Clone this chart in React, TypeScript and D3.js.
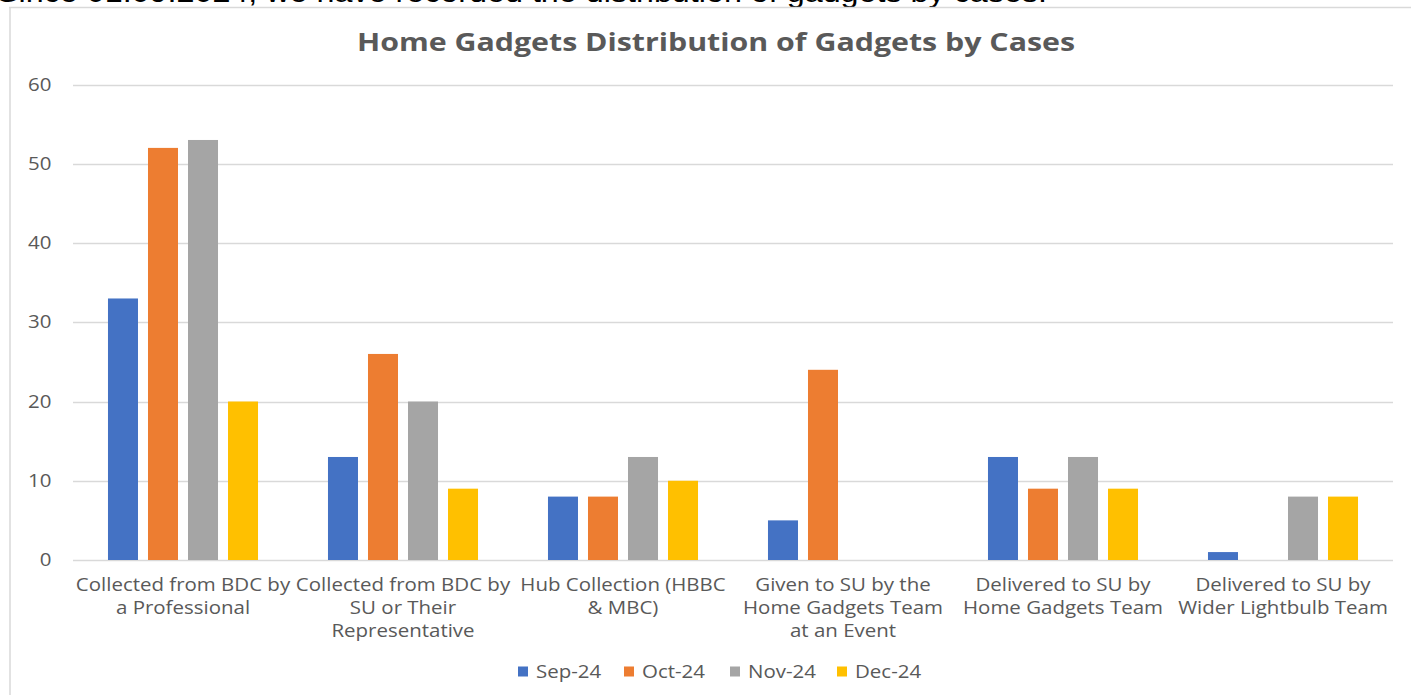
import React from "react";
import * as d3 from "d3";

const categories: string[][] = [
  ["Collected from BDC by", "a Professional"],
  ["Collected from BDC by", "SU or Their", "Representative"],
  ["Hub Collection (HBBC", "& MBC)"],
  ["Given to SU by the", "Home Gadgets Team", "at an Event"],
  ["Delivered to SU by", "Home Gadgets Team"],
  ["Delivered to SU by", "Wider Lightbulb Team"],
];
const seriesNames = ["Sep-24", "Oct-24", "Nov-24", "Dec-24"];
const sep24 = [33, 13, 8, 5, 13, 1];
const oct24 = [52, 26, 8, 24, 9, 0];
const nov24 = [53, 20, 13, 0, 13, 8];
const dec24 = [20, 9, 10, 0, 9, 8];
const yTicks = [0, 10, 20, 30, 40, 50, 60];
const colors = ["#4472C4", "#ED7D31", "#A5A5A5", "#FFC000"];

const W = 1411;
const H = 695;
const FONT = "'Open Sans', sans-serif";
const SX = 1.17;
const FS = 17.5;

function SText({
  x,
  y,
  anchor = "start",
  lines,
}: {
  x: number;
  y: number;
  anchor?: "start" | "middle" | "end";
  lines: string[];
}) {
  return (
    <g transform={`translate(${x},${y}) scale(${SX},1)`}>
      <text textAnchor={anchor} fontFamily={FONT} fontSize={FS} fill="#595959">
        {lines.map((l, i) => (
          <tspan key={i} x={0} y={i * 23}>
            {l}
          </tspan>
        ))}
      </text>
    </g>
  );
}

export default function App() {
  const series = [sep24, oct24, nov24, dec24];
  const x0 = d3
    .scaleBand<number>()
    .domain(categories.map((_, i) => i))
    .range([73, 1393])
    .paddingInner(0.318)
    .paddingOuter(0.159);
  const x1 = d3
    .scaleBand<number>()
    .domain(seriesNames.map((_, i) => i))
    .range([0, x0.bandwidth()])
    .paddingInner(0.25)
    .paddingOuter(0);
  const y = d3.scaleLinear().domain([0, 60]).range([560, 84.5]);
  const legendX = [518, 624, 730, 837];

  return (
    <svg
      width={W}
      height={H}
      style={{ position: "absolute", left: 0, top: 0, background: "#fff" }}
    >
      <text
        x={-3}
        y={1.5}
        fontFamily="'Liberation Sans', Arial, sans-serif"
        fontSize={27}
        fill="#000"
        textLength={1050}
        lengthAdjust="spacingAndGlyphs"
      >
        Since 01.09.2024, we have recorded the distribution of gadgets by cases.
      </text>
      <line x1={9} x2={W} y1={7.5} y2={7.5} stroke="#d9d9d9" strokeWidth={1.5} />
      <line x1={10} x2={10} y1={7} y2={H} stroke="#d9d9d9" strokeWidth={1.5} />
      <text
        x={716}
        y={51}
        textAnchor="middle"
        fontFamily={FONT}
        fontWeight={700}
        fontSize={25}
        fill="#595959"
        textLength={718}
        lengthAdjust="spacingAndGlyphs"
      >
        Home Gadgets Distribution of Gadgets by Cases
      </text>
      {yTicks.map((t) => (
        <g key={t}>
          <line
            x1={73}
            x2={1393}
            y1={Math.round(y(t)) + 0.5}
            y2={Math.round(y(t)) + 0.5}
            stroke="#d9d9d9"
            strokeWidth={1.5}
          />
          <SText x={51.5} y={y(t) + 6} anchor="end" lines={[String(t)]} />
        </g>
      ))}
      {categories.map((_, ci) => (
        <g key={ci} transform={`translate(${x0(ci)},0)`}>
          {series.map((s, si) =>
            s[ci] > 0 ? (
              <rect
                key={si}
                x={x1(si)}
                y={y(s[ci])}
                width={x1.bandwidth()}
                height={y(0) - y(s[ci])}
                fill={colors[si]}
              />
            ) : null
          )}
        </g>
      ))}
      {categories.map((lines, ci) => (
        <SText
          key={ci}
          x={(x0(ci) as number) + x0.bandwidth() / 2}
          y={591}
          anchor="middle"
          lines={lines}
        />
      ))}
      {seriesNames.map((n, i) => (
        <g key={n}>
          <rect x={legendX[i]} y={666.5} width={10} height={10} fill={colors[i]} />
          <SText x={legendX[i] + 18} y={678} lines={[n]} />
        </g>
      ))}
    </svg>
  );
}
